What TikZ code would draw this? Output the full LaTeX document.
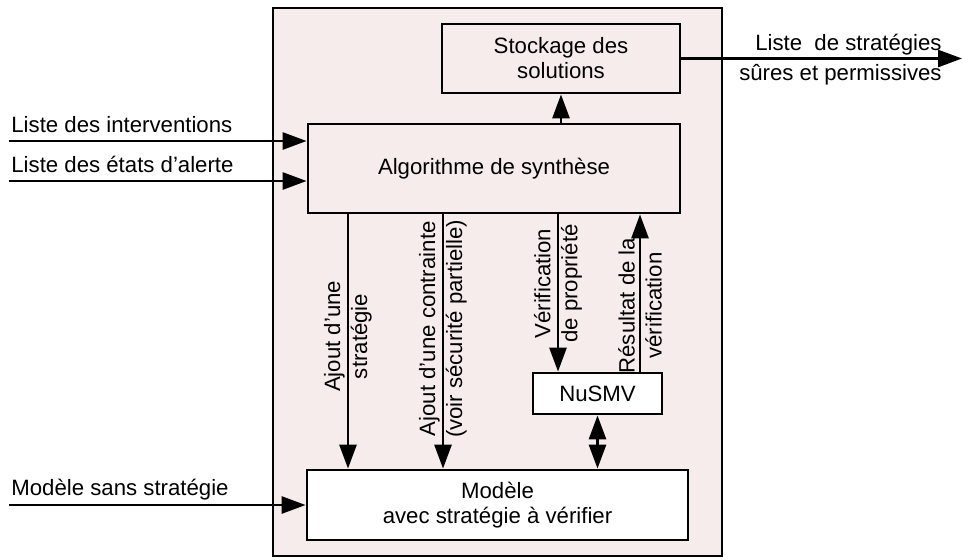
\documentclass[tikz,border=0pt]{standalone}
\usepackage{fontspec}
\setmainfont{Liberation Sans}
\usetikzlibrary{positioning,arrows.meta}
\definecolor{bgpink}{RGB}{246,236,235}

\begin{document}
\begin{tikzpicture}[x=0.5pt, y=-0.5pt, >={Triangle[length=12pt, width=8.5pt]}, line width=1.4pt, font=\fontsize{11.1}{12.5}\selectfont]

% Define block styles
\tikzstyle{block} = [draw, rectangle, inner sep=0pt, align=center]
\tikzstyle{lbl} = [inner sep=0pt]
\tikzstyle{vlbl} = [inner sep=0pt, rotate=90, align=center, font=\fontsize{11.1}{13.5}\selectfont]

\useasboundingbox (0,0) rectangle (963,559);

% Nodes
\node [block, fill=bgpink, minimum width=224.5pt, minimum height=274pt] (sys) at (497.5,282) {};
\node [block, fill=bgpink, minimum width=186pt, minimum height=44.5pt] (algo) at (494,168.5) {Algorithme de synthèse};
\node [block, fill=bgpink, minimum width=119pt, minimum height=34.5pt] (stock) at (561,58.5) {Stockage des\\solutions};
\node [block, fill=white, minimum width=64.5pt, minimum height=20.5pt] (nusmv) at (597.5,393.5) {NuSMV};
\node [block, fill=white, minimum width=190.5pt, minimum height=35pt] (model) at (497.5,505) {Modèle\\avec stratégie à vérifier};

\coordinate (in1) at (9,141);
\coordinate (in2) at (9,181);
\coordinate (in3) at (9,505);
\coordinate (out) at (962,58.5);
\coordinate (xa) at (348,0);
\coordinate (xb) at (443,0);
\coordinate (xv) at (558,0);
\coordinate (xr) at (640,0);

\node [lbl, anchor=base west] (lin1) at (10,132) {Liste des interventions};
\node [lbl, anchor=base west] (lin2) at (10,172.5) {Liste des états d'alerte};
\node [lbl, anchor=base west] (lin3) at (10,495) {Modèle sans stratégie};
\node [lbl, anchor=base east] (lout1) at (943,50) {Liste~~de stratégies};
\node [lbl, anchor=base east] (lout2) at (943,80) {sûres et permissives};

% Connections
\draw [->] (in1) -- (in1 -| algo.west);
\draw [->] (in2) -- (in2 -| algo.west);
\draw [->] (in3) -- (model.west);
\draw [->] (stock.east) -- (out);
\draw [->] (algo.north -| stock.south) -- (stock.south);
\draw [->] (algo.south -| xa) -- node[vlbl, pos=0.48] {Ajout d'une\\stratégie} (model.north -| xa);
\draw [->] (algo.south -| xb) -- node[vlbl, pos=0.45] {Ajout d'une contrainte\\(voir sécurité partielle)} (model.north -| xb);
\draw [->] (algo.south -| xv) -- node[vlbl, pos=0.44] {Vérification\\de propriété} (nusmv.north -| xv);
\draw [->] (nusmv.north -| xr) -- node[vlbl, pos=0.42] {Résultat de la\\vérification} (algo.south -| xr);
\draw [<->] (nusmv.south) -- (model.north -| nusmv.south);

\end{tikzpicture}
\end{document}
